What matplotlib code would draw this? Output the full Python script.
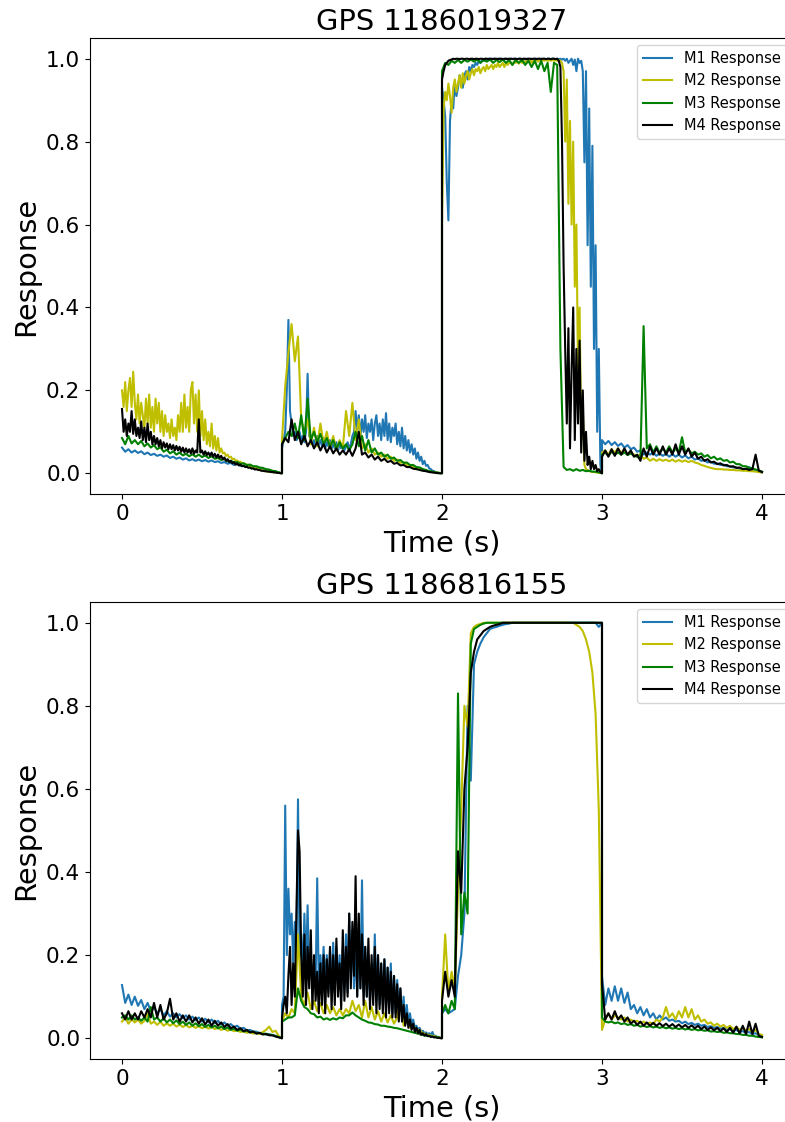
import numpy as np
import matplotlib
matplotlib.use("Agg")
import matplotlib.pyplot as plt

# Each series = 4 one-second segments (0-1, 1-2, 2-3, 3-4 s), values read off the
# reference on an even grid inside each segment (segment ends meet at the jumps).
# Noisy segments are read at 0.01 s, the calmer ones at 0.02 s.
SEG_STARTS = [0, 1, 2, 3]
LABELS = ["M1 Response", "M2 Response", "M3 Response", "M4 Response"]
COLORS = ["#1f77b4", "y", "g", "k"]
TITLES = ["GPS 1186019327", "GPS 1186816155"]

# --- GPS 1186019327 ---
TOP_M1 = [
    [0.062, 0.052, 0.058, 0.050, 0.055, 0.049, 0.053, 0.046, 0.050, 0.044,
     0.047, 0.042, 0.045, 0.040, 0.043, 0.037, 0.040, 0.035, 0.038, 0.033,
     0.036, 0.031, 0.034, 0.030, 0.033, 0.029, 0.032, 0.028, 0.031, 0.027,
     0.029, 0.025, 0.027, 0.023, 0.025, 0.020, 0.022, 0.018, 0.019, 0.015,
     0.016, 0.012, 0.013, 0.010, 0.010, 0.007, 0.007, 0.004, 0.004, 0.002, 0.0],
    [0.06, 0.08, 0.10, 0.20, 0.37, 0.15, 0.12, 0.09, 0.10, 0.08,
     0.085, 0.10, 0.08, 0.09, 0.075, 0.10, 0.24, 0.09, 0.085, 0.07,
     0.08, 0.065, 0.09, 0.07, 0.08, 0.065, 0.085, 0.06, 0.075, 0.065,
     0.08, 0.06, 0.07, 0.06, 0.075, 0.055, 0.07, 0.06, 0.07, 0.055,
     0.065, 0.075, 0.06, 0.07, 0.09, 0.10, 0.15, 0.10, 0.14, 0.09,
     0.13, 0.10, 0.14, 0.085, 0.12, 0.10, 0.13, 0.08, 0.12, 0.14,
     0.09, 0.12, 0.08, 0.13, 0.09, 0.145, 0.08, 0.12, 0.075, 0.11,
     0.09, 0.12, 0.07, 0.10, 0.065, 0.11, 0.06, 0.09, 0.055, 0.08,
     0.05, 0.07, 0.045, 0.06, 0.035, 0.05, 0.03, 0.04, 0.022, 0.03,
     0.018, 0.02, 0.012, 0.01, 0.006, 0.005, 0.003, 0.002, 0.001, 0.0, 0.0],
    [0.93, 0.90, 0.86, 0.70, 0.61, 0.85, 0.90, 0.88, 0.94, 0.91,
     0.93, 0.96, 0.94, 0.93, 0.96, 0.97, 0.95, 0.98, 0.97, 0.985,
     0.98, 0.99, 0.985, 0.995, 0.99, 0.997, 0.995, 1.0, 0.997, 1.0,
     1.0, 0.998, 1.0, 1.0, 0.998, 1.0, 1.0, 0.999, 1.0, 0.998,
     1.0, 1.0, 0.998, 1.0, 1.0, 0.999, 1.0, 0.998, 1.0, 1.0,
     0.999, 1.0, 0.998, 1.0, 1.0, 0.999, 1.0, 0.998, 1.0, 1.0,
     0.998, 1.0, 1.0, 0.999, 1.0, 0.998, 1.0, 1.0, 0.999, 1.0,
     1.0, 0.998, 1.0, 0.999, 1.0, 0.998, 1.0, 0.995, 1.0, 0.99,
     0.995, 1.0, 0.985, 0.998, 0.97, 1.0, 0.99, 0.995, 0.97, 0.75,
     0.97, 0.55, 0.88, 0.45, 0.79, 0.30, 0.55, 0.10, 0.30, 0.02, 0.0],
    [0.08, 0.07, 0.078, 0.068, 0.075, 0.066, 0.072, 0.062, 0.068, 0.058,
     0.062, 0.052, 0.055, 0.045, 0.05, 0.045, 0.05, 0.042, 0.048, 0.042,
     0.047, 0.04, 0.046, 0.04, 0.045, 0.038, 0.043, 0.036, 0.04, 0.033,
     0.036, 0.03, 0.032, 0.026, 0.028, 0.023, 0.024, 0.02, 0.021, 0.017,
     0.017, 0.014, 0.014, 0.011, 0.01, 0.008, 0.015, 0.006, 0.006, 0.004, 0.002],
]
TOP_M2 = [
    [0.20, 0.16, 0.22, 0.15, 0.20, 0.23, 0.16, 0.245, 0.17, 0.13,
     0.19, 0.12, 0.17, 0.14, 0.11, 0.18, 0.12, 0.19, 0.11, 0.16,
     0.10, 0.18, 0.12, 0.17, 0.10, 0.15, 0.09, 0.14, 0.10, 0.12,
     0.085, 0.13, 0.09, 0.11, 0.08, 0.14, 0.10, 0.17, 0.10, 0.19,
     0.11, 0.16, 0.10, 0.20, 0.22, 0.12, 0.19, 0.10, 0.20, 0.09,
     0.15, 0.08, 0.13, 0.07, 0.10, 0.065, 0.12, 0.06, 0.09, 0.055,
     0.085, 0.05, 0.06, 0.048, 0.05, 0.042, 0.045, 0.038, 0.04, 0.034,
     0.035, 0.03, 0.031, 0.027, 0.028, 0.024, 0.025, 0.021, 0.021, 0.018,
     0.018, 0.015, 0.015, 0.012, 0.012, 0.01, 0.009, 0.008, 0.007, 0.006,
     0.005, 0.004, 0.004, 0.003, 0.003, 0.002, 0.002, 0.001, 0.001, 0.0, 0.0],
    [0.08, 0.21, 0.29, 0.36, 0.27, 0.33, 0.13, 0.10, 0.13, 0.07,
     0.11, 0.065, 0.12, 0.07, 0.10, 0.06, 0.09, 0.055, 0.08, 0.06,
     0.15, 0.09, 0.17, 0.08, 0.13, 0.06, 0.07, 0.05, 0.06, 0.045,
     0.05, 0.04, 0.045, 0.035, 0.04, 0.03, 0.033, 0.025, 0.027, 0.02,
     0.02, 0.015, 0.014, 0.01, 0.009, 0.006, 0.004, 0.003, 0.002, 0.001, 0.0],
    [0.60, 0.88, 0.92, 0.90, 0.94, 0.91, 0.87, 0.93, 0.95, 0.92,
     0.94, 0.96, 0.93, 0.965, 0.94, 0.96, 0.97, 0.95, 0.965, 0.975,
     0.96, 0.975, 0.97, 0.98, 0.965, 0.975, 0.98, 0.97, 0.985, 0.975,
     0.98, 0.985, 0.975, 0.985, 0.98, 0.99, 0.98, 0.985, 0.99, 0.98,
     0.99, 0.985, 0.99, 0.99, 0.985, 0.993, 0.99, 0.993, 0.988, 0.995,
     0.99, 0.995, 0.99, 0.995, 0.993, 0.997, 0.99, 0.995, 0.995, 0.997,
     0.993, 0.997, 0.995, 0.997, 0.995, 0.998, 0.995, 0.997, 0.995, 0.998,
     0.995, 0.997, 0.995, 0.997, 0.995, 0.99, 0.97, 0.80, 0.95, 0.65,
     0.85, 0.60, 0.80, 0.45, 0.60, 0.25, 0.40, 0.08, 0.15, 0.02,
     0.01, 0.008, 0.005, 0.004, 0.003, 0.003, 0.002, 0.002, 0.001, 0.001, 0.0],
    [0.05, 0.055, 0.045, 0.058, 0.05, 0.06, 0.05, 0.055, 0.045, 0.05,
     0.045, 0.04, 0.045, 0.035, 0.038, 0.03, 0.035, 0.03, 0.034, 0.03,
     0.033, 0.029, 0.033, 0.028, 0.032, 0.028, 0.031, 0.027, 0.03, 0.026,
     0.024, 0.02, 0.018, 0.015, 0.013, 0.011, 0.01, 0.01, 0.009, 0.009,
     0.008, 0.008, 0.007, 0.007, 0.006, 0.006, 0.005, 0.005, 0.004, 0.003, 0.002],
]
TOP_M3 = [
    [0.085, 0.07, 0.09, 0.072, 0.08, 0.07, 0.078, 0.065, 0.072, 0.062,
     0.068, 0.058, 0.063, 0.052, 0.057, 0.048, 0.053, 0.045, 0.05, 0.043,
     0.047, 0.041, 0.046, 0.04, 0.045, 0.039, 0.043, 0.037, 0.041, 0.035,
     0.037, 0.032, 0.034, 0.029, 0.03, 0.026, 0.027, 0.023, 0.024, 0.02,
     0.021, 0.017, 0.017, 0.014, 0.013, 0.01, 0.009, 0.006, 0.005, 0.002, 0.0],
    [0.07, 0.085, 0.10, 0.09, 0.12, 0.085, 0.14, 0.08, 0.18, 0.08,
     0.10, 0.075, 0.095, 0.07, 0.085, 0.065, 0.08, 0.06, 0.075, 0.06,
     0.07, 0.055, 0.07, 0.10, 0.065, 0.09, 0.055, 0.08, 0.05, 0.06,
     0.045, 0.05, 0.04, 0.045, 0.035, 0.038, 0.03, 0.032, 0.025, 0.026,
     0.02, 0.02, 0.015, 0.014, 0.01, 0.008, 0.005, 0.004, 0.002, 0.001, 0.0],
    [0.97, 0.99, 0.985, 0.995, 0.99, 0.997, 0.99, 0.997, 0.993, 0.998,
     0.993, 0.998, 0.99, 0.997, 0.993, 0.998, 0.99, 0.997, 0.992, 0.998,
     0.99, 0.997, 0.985, 0.997, 0.99, 0.997, 0.985, 0.995, 0.98, 0.995,
     0.975, 0.995, 0.97, 0.99, 0.92, 0.99, 0.985, 0.30, 0.015, 0.008,
     0.01, 0.006, 0.01, 0.006, 0.008, 0.005, 0.006, 0.004, 0.004, 0.002, 0.0],
    [0.045, 0.05, 0.042, 0.052, 0.045, 0.05, 0.045, 0.05, 0.044, 0.048,
     0.042, 0.04, 0.035, 0.355, 0.06, 0.07, 0.05, 0.065, 0.05, 0.06,
     0.05, 0.065, 0.05, 0.06, 0.05, 0.087, 0.05, 0.058, 0.048, 0.052,
     0.045, 0.048, 0.04, 0.044, 0.036, 0.04, 0.033, 0.036, 0.03, 0.032,
     0.026, 0.028, 0.022, 0.022, 0.017, 0.017, 0.013, 0.012, 0.009, 0.007, 0.004],
]
TOP_M4 = [
    [0.155, 0.10, 0.13, 0.09, 0.12, 0.10, 0.15, 0.095, 0.13, 0.09,
     0.11, 0.085, 0.125, 0.08, 0.11, 0.075, 0.12, 0.08, 0.10, 0.07,
     0.09, 0.07, 0.085, 0.065, 0.08, 0.06, 0.075, 0.062, 0.072, 0.058,
     0.07, 0.058, 0.068, 0.055, 0.066, 0.055, 0.064, 0.052, 0.062, 0.05,
     0.06, 0.05, 0.058, 0.048, 0.06, 0.047, 0.055, 0.05, 0.13, 0.05,
     0.055, 0.045, 0.053, 0.044, 0.05, 0.042, 0.05, 0.04, 0.047, 0.038,
     0.045, 0.037, 0.042, 0.034, 0.038, 0.03, 0.034, 0.027, 0.03, 0.024,
     0.027, 0.021, 0.024, 0.019, 0.021, 0.017, 0.018, 0.015, 0.016, 0.013,
     0.014, 0.011, 0.012, 0.009, 0.01, 0.008, 0.008, 0.006, 0.006, 0.005,
     0.005, 0.004, 0.004, 0.003, 0.003, 0.002, 0.002, 0.001, 0.001, 0.0, 0.0],
    [0.07, 0.085, 0.075, 0.13, 0.08, 0.10, 0.07, 0.09, 0.065, 0.08,
     0.06, 0.075, 0.055, 0.07, 0.05, 0.065, 0.048, 0.06, 0.045, 0.055,
     0.045, 0.058, 0.042, 0.06, 0.10, 0.045, 0.05, 0.038, 0.045, 0.033,
     0.04, 0.03, 0.035, 0.027, 0.03, 0.023, 0.025, 0.019, 0.02, 0.015,
     0.015, 0.011, 0.01, 0.008, 0.006, 0.005, 0.003, 0.002, 0.001, 0.0, 0.0],
    [0.95, 0.97, 0.985, 0.99, 0.995, 0.997, 0.998, 1.0, 0.999, 1.0,
     1.0, 0.999, 1.0, 1.0, 0.999, 1.0, 1.0, 0.999, 1.0, 1.0,
     0.999, 1.0, 1.0, 0.999, 1.0, 1.0, 0.999, 1.0, 1.0, 0.999,
     1.0, 1.0, 0.999, 1.0, 1.0, 0.999, 1.0, 1.0, 0.999, 1.0,
     1.0, 0.999, 1.0, 1.0, 0.999, 1.0, 1.0, 0.999, 1.0, 1.0,
     0.999, 1.0, 1.0, 0.999, 1.0, 1.0, 0.999, 1.0, 1.0, 0.999,
     1.0, 1.0, 0.999, 1.0, 1.0, 0.999, 1.0, 1.0, 0.999, 1.0,
     1.0, 0.999, 1.0, 0.995, 0.98, 0.80, 0.50, 0.30, 0.12, 0.35,
     0.06, 0.25, 0.40, 0.08, 0.30, 0.12, 0.32, 0.05, 0.20, 0.03,
     0.10, 0.02, 0.04, 0.01, 0.03, 0.01, 0.02, 0.005, 0.01, 0.003, 0.0],
    [0.04, 0.055, 0.04, 0.058, 0.042, 0.06, 0.045, 0.06, 0.045, 0.055,
     0.04, 0.045, 0.03, 0.06, 0.04, 0.065, 0.045, 0.06, 0.045, 0.065,
     0.045, 0.06, 0.045, 0.07, 0.045, 0.065, 0.045, 0.06, 0.04, 0.05,
     0.035, 0.04, 0.03, 0.034, 0.026, 0.028, 0.022, 0.024, 0.019, 0.02,
     0.016, 0.017, 0.013, 0.014, 0.01, 0.011, 0.008, 0.01, 0.045, 0.006, 0.003],
]

# --- GPS 1186816155 ---
BOT_M1 = [
    [0.128, 0.085, 0.105, 0.08, 0.10, 0.078, 0.092, 0.07, 0.085, 0.065,
     0.075, 0.06, 0.07, 0.055, 0.065, 0.052, 0.06, 0.05, 0.058, 0.048,
     0.055, 0.045, 0.052, 0.043, 0.05, 0.04, 0.047, 0.038, 0.045, 0.036,
     0.042, 0.033, 0.038, 0.03, 0.034, 0.027, 0.03, 0.023, 0.025, 0.019,
     0.02, 0.016, 0.016, 0.012, 0.012, 0.009, 0.01, 0.007, 0.006, 0.003, 0.0],
    [0.08, 0.10, 0.56, 0.20, 0.36, 0.25, 0.30, 0.18, 0.28, 0.20,
     0.575, 0.20, 0.25, 0.15, 0.30, 0.16, 0.32, 0.14, 0.20, 0.12,
     0.18, 0.13, 0.385, 0.12, 0.20, 0.13, 0.22, 0.12, 0.20, 0.11,
     0.21, 0.12, 0.23, 0.11, 0.22, 0.13, 0.20, 0.10, 0.22, 0.12,
     0.25, 0.11, 0.30, 0.14, 0.26, 0.12, 0.22, 0.10, 0.28, 0.12,
     0.38, 0.11, 0.22, 0.10, 0.20, 0.09, 0.18, 0.10, 0.25, 0.09,
     0.20, 0.08, 0.18, 0.08, 0.19, 0.07, 0.17, 0.07, 0.18, 0.06,
     0.15, 0.06, 0.14, 0.05, 0.12, 0.05, 0.10, 0.04, 0.08, 0.035,
     0.06, 0.03, 0.045, 0.025, 0.03, 0.02, 0.025, 0.015, 0.018, 0.012,
     0.014, 0.01, 0.012, 0.008, 0.015, 0.005, 0.006, 0.003, 0.003, 0.001, 0.0],
    [0.06, 0.07, 0.06, 0.065, 0.07, 0.15, 0.20, 0.30, 0.80, 0.62,
     0.90, 0.93, 0.95, 0.965, 0.975, 0.985, 0.988, 0.99, 0.993, 0.995,
     0.997, 0.998, 1.0, 1.0, 1.0, 1.0, 1.0, 1.0, 1.0, 1.0,
     1.0, 1.0, 1.0, 1.0, 1.0, 1.0, 1.0, 1.0, 1.0, 1.0,
     1.0, 1.0, 1.0, 1.0, 1.0, 1.0, 1.0, 1.0, 1.0, 0.99, 1.0],
    [0.15, 0.08, 0.12, 0.09, 0.125, 0.09, 0.12, 0.085, 0.11, 0.07,
     0.08, 0.06, 0.075, 0.055, 0.07, 0.05, 0.06, 0.045, 0.055, 0.045,
     0.05, 0.042, 0.045, 0.04, 0.042, 0.036, 0.04, 0.034, 0.037, 0.032,
     0.035, 0.03, 0.032, 0.027, 0.029, 0.025, 0.027, 0.023, 0.025, 0.02,
     0.022, 0.018, 0.02, 0.015, 0.017, 0.013, 0.015, 0.01, 0.012, 0.008, 0.005],
]
BOT_M2 = [
    [0.04, 0.05, 0.035, 0.045, 0.038, 0.045, 0.035, 0.042, 0.06, 0.035,
     0.04, 0.032, 0.04, 0.03, 0.036, 0.03, 0.035, 0.028, 0.033, 0.027,
     0.032, 0.026, 0.03, 0.025, 0.029, 0.024, 0.028, 0.023, 0.027, 0.022,
     0.025, 0.02, 0.023, 0.018, 0.021, 0.017, 0.019, 0.015, 0.017, 0.013,
     0.015, 0.011, 0.013, 0.01, 0.015, 0.02, 0.028, 0.015, 0.018, 0.005, 0.0],
    [0.04, 0.06, 0.05, 0.07, 0.06, 0.25, 0.10, 0.08, 0.11, 0.07,
     0.09, 0.065, 0.085, 0.06, 0.08, 0.06, 0.075, 0.055, 0.07, 0.055,
     0.07, 0.06, 0.09, 0.065, 0.08, 0.05, 0.09, 0.05, 0.075, 0.045,
     0.065, 0.04, 0.06, 0.038, 0.055, 0.035, 0.05, 0.10, 0.03, 0.04,
     0.025, 0.03, 0.018, 0.02, 0.012, 0.01, 0.007, 0.006, 0.004, 0.002, 0.0],
    [0.10, 0.25, 0.11, 0.16, 0.12, 0.35, 0.55, 0.80, 0.75, 0.975,
     0.99, 0.995, 0.997, 1.0, 1.0, 1.0, 1.0, 1.0, 1.0, 1.0,
     1.0, 1.0, 1.0, 1.0, 1.0, 1.0, 1.0, 1.0, 1.0, 1.0,
     1.0, 1.0, 1.0, 1.0, 1.0, 1.0, 1.0, 1.0, 1.0, 1.0,
     1.0, 1.0, 0.995, 0.99, 0.98, 0.96, 0.93, 0.88, 0.78, 0.55, 0.03],
    [0.02, 0.045, 0.06, 0.045, 0.055, 0.05, 0.045, 0.05, 0.04, 0.045,
     0.04, 0.042, 0.036, 0.04, 0.035, 0.038, 0.034, 0.045, 0.04, 0.05,
     0.075, 0.05, 0.06, 0.045, 0.065, 0.05, 0.075, 0.05, 0.07, 0.045,
     0.055, 0.04, 0.045, 0.035, 0.038, 0.03, 0.035, 0.028, 0.032, 0.025,
     0.03, 0.022, 0.027, 0.02, 0.025, 0.018, 0.022, 0.015, 0.02, 0.01, 0.008],
]
BOT_M3 = [
    [0.05, 0.055, 0.045, 0.055, 0.045, 0.05, 0.042, 0.05, 0.04, 0.075,
     0.045, 0.05, 0.04, 0.048, 0.038, 0.045, 0.036, 0.043, 0.034, 0.04,
     0.032, 0.038, 0.03, 0.036, 0.029, 0.034, 0.027, 0.032, 0.026, 0.03,
     0.024, 0.028, 0.022, 0.026, 0.02, 0.023, 0.018, 0.021, 0.016, 0.018,
     0.014, 0.016, 0.012, 0.013, 0.01, 0.011, 0.008, 0.008, 0.005, 0.003, 0.0],
    [0.04, 0.045, 0.05, 0.05, 0.055, 0.12, 0.09, 0.075, 0.07, 0.06,
     0.058, 0.05, 0.052, 0.045, 0.048, 0.044, 0.048, 0.045, 0.05, 0.048,
     0.055, 0.055, 0.062, 0.055, 0.05, 0.045, 0.042, 0.038, 0.037, 0.034,
     0.033, 0.03, 0.03, 0.028, 0.027, 0.025, 0.024, 0.022, 0.02, 0.018,
     0.016, 0.014, 0.012, 0.01, 0.008, 0.006, 0.005, 0.004, 0.003, 0.002, 0.0],
    [0.06, 0.08, 0.06, 0.09, 0.07, 0.83, 0.25, 0.35, 0.30, 0.95,
     0.985, 0.99, 0.995, 0.998, 1.0, 1.0, 1.0, 1.0, 1.0, 1.0,
     1.0, 1.0, 1.0, 1.0, 1.0, 1.0, 1.0, 1.0, 1.0, 1.0,
     1.0, 1.0, 1.0, 1.0, 1.0, 1.0, 1.0, 1.0, 1.0, 1.0,
     1.0, 1.0, 1.0, 1.0, 1.0, 1.0, 1.0, 1.0, 1.0, 1.0, 1.0],
    [0.05, 0.04, 0.038, 0.04, 0.036, 0.038, 0.034, 0.036, 0.032, 0.034,
     0.03, 0.032, 0.028, 0.03, 0.027, 0.029, 0.026, 0.028, 0.025, 0.027,
     0.024, 0.026, 0.023, 0.025, 0.022, 0.024, 0.021, 0.023, 0.02, 0.022,
     0.019, 0.02, 0.018, 0.019, 0.016, 0.017, 0.015, 0.016, 0.013, 0.014,
     0.012, 0.012, 0.01, 0.01, 0.008, 0.008, 0.006, 0.006, 0.004, 0.003, 0.002],
]
BOT_M4 = [
    [0.06, 0.045, 0.065, 0.045, 0.06, 0.045, 0.065, 0.05, 0.07, 0.05,
     0.085, 0.05, 0.08, 0.045, 0.06, 0.095, 0.045, 0.06, 0.04, 0.055,
     0.04, 0.055, 0.038, 0.05, 0.035, 0.048, 0.033, 0.045, 0.03, 0.042,
     0.03, 0.038, 0.027, 0.034, 0.024, 0.028, 0.02, 0.024, 0.017, 0.02,
     0.014, 0.016, 0.011, 0.013, 0.009, 0.01, 0.007, 0.007, 0.004, 0.002, 0.0],
    [0.05, 0.08, 0.10, 0.06, 0.15, 0.22, 0.08, 0.18, 0.10, 0.30,
     0.50, 0.45, 0.20, 0.10, 0.25, 0.08, 0.22, 0.12, 0.26, 0.07,
     0.20, 0.09, 0.16, 0.06, 0.18, 0.08, 0.20, 0.06, 0.19, 0.10,
     0.22, 0.07, 0.20, 0.08, 0.24, 0.10, 0.18, 0.07, 0.26, 0.09,
     0.22, 0.10, 0.30, 0.12, 0.28, 0.15, 0.39, 0.10, 0.30, 0.12,
     0.25, 0.08, 0.22, 0.10, 0.24, 0.07, 0.20, 0.08, 0.22, 0.06,
     0.20, 0.07, 0.18, 0.06, 0.19, 0.05, 0.17, 0.06, 0.16, 0.05,
     0.15, 0.05, 0.13, 0.04, 0.12, 0.04, 0.08, 0.03, 0.06, 0.025,
     0.045, 0.02, 0.035, 0.015, 0.025, 0.012, 0.02, 0.008, 0.012, 0.006,
     0.01, 0.005, 0.006, 0.003, 0.004, 0.002, 0.002, 0.001, 0.001, 0.0, 0.0],
    [0.09, 0.16, 0.10, 0.14, 0.10, 0.45, 0.35, 0.60, 0.70, 0.88,
     0.93, 0.96, 0.97, 0.98, 0.985, 0.99, 0.993, 0.995, 0.997, 1.0,
     1.0, 1.0, 1.0, 1.0, 1.0, 1.0, 1.0, 1.0, 1.0, 1.0,
     1.0, 1.0, 1.0, 1.0, 1.0, 1.0, 1.0, 1.0, 1.0, 1.0,
     1.0, 1.0, 1.0, 1.0, 1.0, 1.0, 1.0, 1.0, 1.0, 1.0, 1.0],
    [0.13, 0.045, 0.06, 0.045, 0.065, 0.045, 0.055, 0.04, 0.05, 0.035,
     0.042, 0.032, 0.04, 0.03, 0.038, 0.03, 0.037, 0.03, 0.036, 0.029,
     0.035, 0.028, 0.034, 0.027, 0.033, 0.026, 0.032, 0.025, 0.031, 0.024,
     0.03, 0.022, 0.028, 0.02, 0.026, 0.019, 0.025, 0.017, 0.024, 0.015,
     0.025, 0.013, 0.028, 0.012, 0.03, 0.01, 0.04, 0.01, 0.035, 0.006, 0.003],
]

PANELS = [
    (TOP_M1, TOP_M2, TOP_M3, TOP_M4),
    (BOT_M1, BOT_M2, BOT_M3, BOT_M4),
]


def series_xy(segments):
    """Joins the 1 s segments; each one spans [start, start + 1]."""
    ts, vs = [], []
    for start, seg in zip(SEG_STARTS, segments):
        ts.append(start + np.linspace(0, 1, len(seg)))
        vs.append(np.asarray(seg, float))
    return np.concatenate(ts), np.concatenate(vs)


fig = plt.figure(figsize=(7.85, 11.22), dpi=100)
W, H = 785, 1122
boxes = [(90, 38, 794, 494), (90, 602, 794, 1059)]  # left, top, right, bottom (px)

for (l, t, r, b), title, series in zip(boxes, TITLES, PANELS):
    ax = fig.add_axes([l / W, 1 - b / H, (r - l) / W, (b - t) / H])
    for segs, color, label in zip(series, COLORS, LABELS):
        x, y = series_xy(segs)
        ax.plot(x, y, color=color, lw=1.5, label=label)
    ax.set_xlim(-0.2, 4.2)
    ax.set_ylim(-0.05, 1.05)
    ax.set_xticks([0, 1, 2, 3, 4])
    ax.set_yticks([0.0, 0.2, 0.4, 0.6, 0.8, 1.0])
    ax.tick_params(labelsize=15.5)
    ax.set_title(title, fontsize=20.8)
    ax.set_xlabel("Time (s)", fontsize=20.8)
    ax.set_ylabel("Response", fontsize=20.8)
    ax.legend(loc="upper right", fontsize=10.5)

fig.savefig("out.png", dpi=100)
